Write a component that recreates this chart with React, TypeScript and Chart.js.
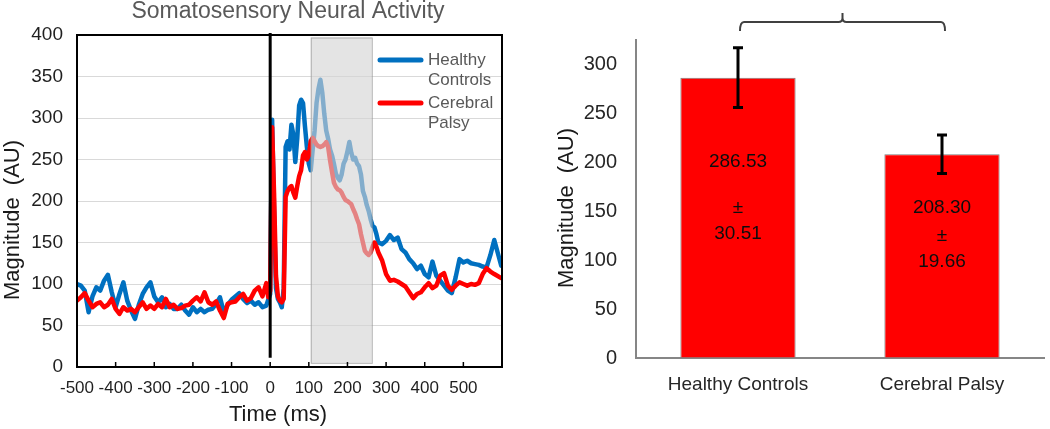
import React, { useEffect, useRef } from 'react';
import { Chart, registerables } from 'chart.js';

Chart.register(...registerables);

// ---------- Data: left panel (time course) ----------
const TIME_MS = [
  -500, -490, -480, -470, -460, -450, -440, -430, -420, -410,
  -400, -390, -380, -370, -360, -350, -340, -330, -320, -310,
  -300, -290, -280, -270, -260, -250, -240, -230, -220, -210,
  -200, -190, -180, -170, -160, -150, -140, -130, -120, -110,
  -100, -90, -80, -70, -60, -50, -40, -30, -20, -10,
  -5, 0, 5, 10, 15, 20, 25, 30, 35, 40,
  45, 50, 55, 60, 65, 70, 75, 80, 85, 90,
  95, 100, 105, 110, 115, 120, 125, 130, 135, 140,
  145, 150, 155, 160, 165, 170, 175, 180, 185, 190,
  195, 200, 205, 210, 215, 220, 225, 230, 235, 240,
  245, 250, 255, 260, 265, 270, 275, 280,
  290, 300, 310, 320, 330, 340, 350, 360, 370, 380,
  390, 400, 410, 420, 430, 440, 450, 460, 470, 480,
  490, 500, 510, 520, 530, 540, 550, 560, 570, 580,
  598,
];

const HEALTHY_CONTROLS = [
  100, 98, 92, 66, 85, 96, 92, 104, 111, 90,
  72, 88, 102, 80, 68, 58, 75, 88, 96, 102,
  85, 78, 84, 72, 76, 70, 70, 75, 68, 63,
  72, 66, 70, 66, 69, 70, 76, 84, 66, 75,
  81, 85, 89, 82, 77, 80, 75, 78, 72, 74,
  81, 88, 298, 190, 95, 82, 78, 72, 95, 265,
  272, 262, 292, 280, 247, 275, 315, 322, 318, 290,
  265, 245, 237, 262, 285, 318, 335, 346, 330, 305,
  285, 275, 262, 255, 245, 233, 228, 225, 232, 245,
  250, 260, 271, 258, 250, 252, 245, 242, 232, 212,
  205, 195, 188, 178, 170, 168, 160, 150,
  148, 152, 159, 153, 156, 142, 138, 130, 125, 118,
  122, 112, 108, 127, 110, 104, 98, 92, 89, 108,
  130, 126, 128, 125, 124, 123, 121, 120, 135, 153,
  122,
];

const CEREBRAL_PALSY = [
  80, 84, 89, 80, 72, 76, 78, 72, 75, 82,
  70, 64, 72, 68, 70, 66, 72, 78, 70, 74,
  70, 76, 72, 82, 72, 75, 70, 71, 74, 75,
  80, 84, 79, 90, 78, 75, 79, 68, 59, 76,
  78, 79, 84, 88, 80, 83, 92, 96, 85, 101,
  84, 92, 289, 210, 110, 85, 80, 78, 82, 205,
  212, 216, 218, 210, 204, 218, 230, 237, 255, 259,
  250, 255, 272, 276, 272, 268, 266, 265, 266, 268,
  271, 265, 249, 235, 222, 217, 214, 213, 210, 205,
  201, 200, 198, 196, 190, 185, 178, 172, 160, 150,
  140, 137, 135, 138, 145, 150, 145, 138,
  128, 112, 104, 105, 103, 100, 97, 90, 83, 88,
  90, 96, 101, 95, 98, 110, 113, 98, 93, 98,
  102, 100, 98, 100, 99, 101, 112, 119, 115, 112,
  107,
];

const SHADE_WINDOW_MS = [105, 263];
const X_TICKS = [-500, -400, -300, -200, -100, 0, 100, 200, 300, 400, 500];
const Y_TICKS_LEFT = [0, 50, 100, 150, 200, 250, 300, 350, 400];

// ---------- Data: right panel (bar chart) ----------
const GROUPS = ['Healthy Controls', 'Cerebral Palsy'];
const MEANS = [286.53, 208.3];
const ERRORS = [30.51, 19.66];
const Y_TICKS_RIGHT = [0, 50, 100, 150, 200, 250, 300];

const FONT = '"Liberation Sans", Arial, Helvetica, sans-serif';
const BLUE = '#0070c0';
const RED = '#ff0000';

const leftDecor = {
  id: 'leftDecor',
  afterDatasetsDraw(chart: any) {
    const { ctx, chartArea: a, scales } = chart;
    const x = scales.x;
    const y = scales.y;
    ctx.save();
    // shaded window (drawn over lines, semi-transparent)
    const sx0 = x.getPixelForValue(SHADE_WINDOW_MS[0]);
    const sx1 = x.getPixelForValue(SHADE_WINDOW_MS[1]);
    const sy0 = y.getPixelForValue(397);
    const sy1 = y.getPixelForValue(5);
    ctx.fillStyle = 'rgba(211,211,211,0.62)';
    ctx.fillRect(sx0, sy0, sx1 - sx0, sy1 - sy0);
    ctx.strokeStyle = 'rgba(150,150,150,0.7)';
    ctx.lineWidth = 1;
    ctx.strokeRect(sx0 + 0.5, sy0 + 0.5, sx1 - sx0, sy1 - sy0);
    // stimulus line
    const zx = x.getPixelForValue(0);
    ctx.strokeStyle = '#000';
    ctx.lineWidth = 3;
    ctx.beginPath();
    ctx.moveTo(zx, a.top - 2);
    ctx.lineTo(zx, y.getPixelForValue(11));
    ctx.stroke();
    // plot box
    ctx.lineWidth = 2;
    ctx.strokeRect(a.left, a.top, a.right - a.left, a.bottom - a.top);
    // x tick marks (inside)
    ctx.lineWidth = 1.5;
    X_TICKS.forEach((v) => {
      const px = x.getPixelForValue(v);
      ctx.beginPath();
      ctx.moveTo(px, a.bottom);
      ctx.lineTo(px, a.bottom - 5);
      ctx.stroke();
    });
    ctx.restore();
  },
  afterDraw(chart: any) {
    const { ctx } = chart;
    ctx.save();
    // title
    ctx.fillStyle = '#595959';
    ctx.font = `23px ${FONT}`;
    ctx.textAlign = 'center';
    ctx.textBaseline = 'alphabetic';
    ctx.fillText('Somatosensory Neural Activity', 288, 18);
    // x title
    ctx.fillStyle = '#1a1a1a';
    ctx.font = `22px ${FONT}`;
    ctx.fillText('Time (ms)', 278, 421);
    // y title
    ctx.save();
    ctx.translate(13, 220);
    ctx.rotate(-Math.PI / 2);
    ctx.textBaseline = 'middle';
    ctx.font = `22px ${FONT}`;
    ctx.fillText('Magnitude  (AU)', 0, 0);
    ctx.restore();
    // legend
    const items = [
      { c: BLUE, l1: 'Healthy', l2: 'Controls', y: 60 },
      { c: RED, l1: 'Cerebral', l2: 'Palsy', y: 103 },
    ];
    items.forEach((it) => {
      ctx.strokeStyle = it.c;
      ctx.lineWidth = 5;
      ctx.lineCap = 'round';
      ctx.beginPath();
      ctx.moveTo(380, it.y);
      ctx.lineTo(421, it.y);
      ctx.stroke();
      ctx.fillStyle = '#595959';
      ctx.font = `17px ${FONT}`;
      ctx.textAlign = 'left';
      ctx.textBaseline = 'middle';
      ctx.fillText(it.l1, 428, it.y);
      ctx.fillText(it.l2, 428, it.y + 20);
    });
    ctx.restore();
  },
};

const rightDecor = {
  id: 'rightDecor',
  afterDatasetsDraw(chart: any) {
    const { ctx, scales } = chart;
    const y = scales.y;
    const meta = chart.getDatasetMeta(0);
    ctx.save();
    // error bars
    ctx.strokeStyle = '#000';
    ctx.lineWidth = 3;
    MEANS.forEach((m, i) => {
      const px = meta.data[i].x;
      const t = y.getPixelForValue(m + ERRORS[i]);
      const b = y.getPixelForValue(m - ERRORS[i]);
      ctx.beginPath();
      ctx.moveTo(px, t);
      ctx.lineTo(px, b);
      ctx.moveTo(px - 5, t);
      ctx.lineTo(px + 5, t);
      ctx.moveTo(px - 5, b);
      ctx.lineTo(px + 5, b);
      ctx.stroke();
    });
    // value labels
    ctx.fillStyle = '#0d0d0d';
    ctx.font = `19px ${FONT}`;
    ctx.textAlign = 'center';
    ctx.textBaseline = 'middle';
    const linePos = [
      [201, 154, 127],
      [154, 125, 98],
    ];
    MEANS.forEach((m, i) => {
      const px = meta.data[i].x;
      const lines = [m.toFixed(2), '±', ERRORS[i].toFixed(2)];
      lines.forEach((s, k) => ctx.fillText(s, px, y.getPixelForValue(linePos[i][k])));
    });
    ctx.restore();
  },
  afterDraw(chart: any) {
    const { ctx, chartArea: a } = chart;
    const meta = chart.getDatasetMeta(0);
    ctx.save();
    // y title
    ctx.fillStyle = '#1a1a1a';
    ctx.font = `22px ${FONT}`;
    ctx.textAlign = 'center';
    ctx.textBaseline = 'middle';
    ctx.translate(47, 208);
    ctx.rotate(-Math.PI / 2);
    ctx.fillText('Magnitude  (AU)', 0, 0);
    ctx.restore();
    // significance bracket
    ctx.save();
    const L = meta.data[0].x + 2;
    const R = meta.data[1].x + 3;
    const M = (L + R) / 2;
    const yH = a.top - 18;
    const yE = a.top - 9;
    const yT = a.top - 27;
    ctx.strokeStyle = '#404040';
    ctx.lineWidth = 2;
    ctx.beginPath();
    ctx.moveTo(L, yE);
    ctx.quadraticCurveTo(L, yH, L + 4, yH);
    ctx.lineTo(M - 4, yH);
    ctx.quadraticCurveTo(M, yH, M, yH - 4);
    ctx.lineTo(M, yT);
    ctx.moveTo(M, yH - 4);
    ctx.quadraticCurveTo(M, yH, M + 4, yH);
    ctx.lineTo(R - 4, yH);
    ctx.quadraticCurveTo(R, yH, R, yE);
    ctx.stroke();
    ctx.restore();
  },
};

export default function App() {
  const leftRef = useRef<HTMLCanvasElement | null>(null);
  const rightRef = useRef<HTMLCanvasElement | null>(null);

  useEffect(() => {
    const left = new Chart(leftRef.current as HTMLCanvasElement, {
      type: 'line',
      data: {
        datasets: [
          {
            label: 'Healthy Controls',
            data: TIME_MS.map((t, i) => ({ x: t, y: HEALTHY_CONTROLS[i] })),
            borderColor: BLUE,
            borderWidth: 4.5,
            pointRadius: 0,
            tension: 0,
            borderJoinStyle: 'round',
            borderCapStyle: 'round',
            order: 1,
          },
          {
            label: 'Cerebral Palsy',
            data: TIME_MS.map((t, i) => ({ x: t, y: CEREBRAL_PALSY[i] })),
            borderColor: RED,
            borderWidth: 4.5,
            pointRadius: 0,
            tension: 0,
            borderJoinStyle: 'round',
            borderCapStyle: 'round',
            order: 0,
          },
        ],
      },
      options: {
        animation: false,
        responsive: false,
        layout: { padding: { top: 35, right: 18, left: 0, bottom: 0 } },
        plugins: {
          legend: { display: false },
          title: { display: false },
          tooltip: { enabled: false },
        },
        scales: {
          x: {
            type: 'linear',
            min: -500,
            max: 600,
            afterBuildTicks: (s: any) => {
              s.ticks = X_TICKS.map((v) => ({ value: v }));
            },
            afterFit: (s: any) => {
              s.height = 62;
            },
            grid: { display: false, drawTicks: false },
            border: { display: false },
            ticks: {
              font: { family: FONT, size: 17 },
              color: '#1f1f1f',
              padding: 11,
              maxRotation: 0,
              autoSkip: false,
            },
          },
          y: {
            min: 0,
            max: 400,
            afterBuildTicks: (s: any) => {
              s.ticks = Y_TICKS_LEFT.map((v) => ({ value: v }));
            },
            afterFit: (s: any) => {
              s.width = 77;
            },
            grid: { color: '#d9d9d9', lineWidth: 1, drawTicks: false },
            border: { display: false },
            ticks: {
              font: { family: FONT, size: 19 },
              color: '#1f1f1f',
              padding: 14,
            },
          },
        },
      },
      plugins: [leftDecor],
    } as any);

    const right = new Chart(rightRef.current as HTMLCanvasElement, {
      type: 'bar',
      data: {
        labels: GROUPS,
        datasets: [
          {
            data: MEANS,
            backgroundColor: RED,
            borderColor: '#7f7f7f',
            borderWidth: 1,
            categoryPercentage: 1,
            barPercentage: 0.565,
          },
        ],
      },
      options: {
        animation: false,
        responsive: false,
        layout: { padding: { top: 40, right: 6, left: 0, bottom: 0 } },
        plugins: {
          legend: { display: false },
          title: { display: false },
          tooltip: { enabled: false },
        },
        scales: {
          x: {
            afterFit: (s: any) => {
              s.height = 71;
            },
            grid: { display: true, drawOnChartArea: false, drawTicks: false },
            border: { display: true, color: '#868686', width: 2 },
            ticks: {
              font: { family: FONT, size: 19 },
              color: '#262626',
              padding: 15,
            },
          },
          y: {
            min: 0,
            max: 325,
            afterBuildTicks: (s: any) => {
              s.ticks = Y_TICKS_RIGHT.map((v) => ({ value: v }));
            },
            afterFit: (s: any) => {
              s.width = 116;
            },
            grid: { display: true, drawOnChartArea: false, drawTicks: false },
            border: { display: true, color: '#868686', width: 2 },
            ticks: {
              font: { family: FONT, size: 20 },
              color: '#262626',
              padding: 19,
            },
          },
        },
      },
      plugins: [rightDecor],
    } as any);

    return () => {
      left.destroy();
      right.destroy();
    };
  }, []);

  return (
    <div
      style={{
        position: 'fixed',
        left: 0,
        top: 0,
        width: 1050,
        height: 429,
        background: '#ffffff',
        overflow: 'hidden',
      }}
    >
      <canvas
        ref={leftRef}
        width={520}
        height={429}
        style={{ position: 'absolute', left: 0, top: 0, width: 520, height: 429 }}
      />
      <canvas
        ref={rightRef}
        width={530}
        height={429}
        style={{ position: 'absolute', left: 520, top: 0, width: 530, height: 429 }}
      />
    </div>
  );
}
